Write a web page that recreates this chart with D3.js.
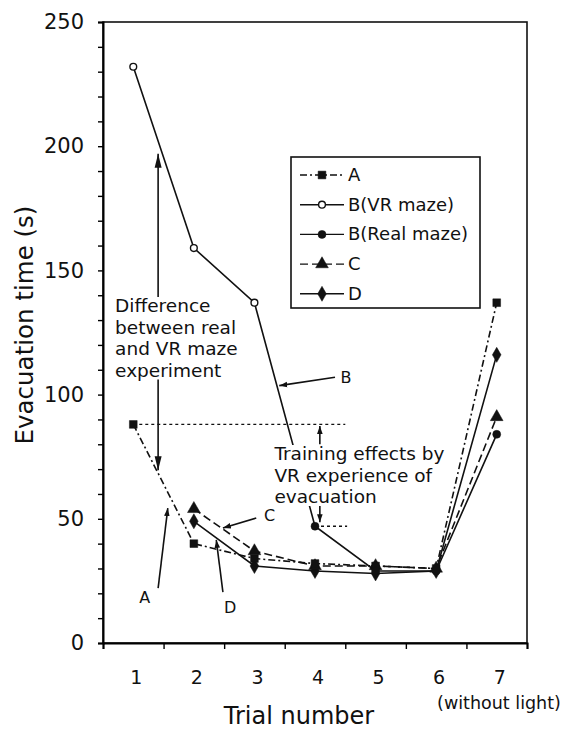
<!DOCTYPE html>
<html>
<head>
<meta charset="utf-8">
<script src="https://cdn.jsdelivr.net/npm/d3@7"></script>
<style>
body{margin:0;background:#fff;}
text{font-family:"DejaVu Sans",Verdana,sans-serif;fill:#111;}
</style>
</head>
<body>
<div id="chart"></div>
<script>
// trial numbers and evacuation times (s)
var trials=[1,2,3,4,5,6,7];
var seriesA=[88,40,34,32,31,30,137];
var seriesBVR=[232,159,137];          // trials 1-3
var seriesBReal=[47,29,29,84];        // trials 4-7
var seriesC=[null,54,37,31,31,30,91];
var seriesD=[null,49,31,29,28,29,116];
var yTicks=[0,50,100,150,200,250];
var legendNames=["A","B(VR maze)","B(Real maze)","C","D"];

var width=565,height=736;
var margin={top:22,left:103,right:38,bottom:93};

var svg=d3.select("#chart").append("svg")
    .attr("width",width).attr("height",height);
svg.append("rect").attr("width",width).attr("height",height).attr("fill","white");

var x=d3.scaleLinear().domain([0.5,7.5]).range([margin.left,width-margin.right]);
var y=d3.scaleLinear().domain([0,250]).range([height-margin.bottom,margin.top]);

// frame
svg.append("rect")
    .attr("x",x(0.5)).attr("y",y(250))
    .attr("width",x(7.5)-x(0.5)).attr("height",y(0)-y(250))
    .attr("fill","none").attr("stroke","#111").attr("stroke-width",1.6);

// y axis, minor ticks every 10
var yAxis=d3.axisLeft(y).tickValues(d3.range(0,251,10)).tickSize(5)
    .tickFormat(function(d){return yTicks.indexOf(d)>=0?d:"";});
var gy=svg.append("g").attr("transform","translate("+x(0.5)+",0)").call(yAxis);
gy.select(".domain").attr("stroke-width",2);
gy.selectAll(".tick line").attr("stroke-width",1.4);
gy.selectAll(".tick text").attr("font-size",21).attr("dx",-11)
    .style("font-family","DejaVu Sans");

// x axis, ticks between the trials
var xAxis=d3.axisBottom(x).tickValues(d3.range(0.5,7.6,1)).tickSize(6).tickFormat("");
var gx=svg.append("g").attr("transform","translate(0,"+y(0)+")").call(xAxis);
gx.select(".domain").attr("stroke-width",2);
gx.selectAll(".tick line").attr("stroke-width",1.4);
svg.append("g").selectAll("text").data(trials).enter().append("text")
    .attr("x",function(d){return x(d)+3;}).attr("y",y(0)+41)
    .attr("text-anchor","middle").attr("font-size",19).text(function(d){return d;});

svg.append("text").attr("x",299).attr("y",724).attr("text-anchor","middle")
    .attr("font-size",24).text("Trial number");
svg.append("text").attr("x",499).attr("y",709).attr("text-anchor","middle")
    .attr("font-size",17.5).text("(without light)");
svg.append("text").attr("transform","translate(33,325) rotate(-90)")
    .attr("text-anchor","middle").attr("font-size",24.5).text("Evacuation time (s)");

// lines
var line=d3.line().defined(function(d){return d.v!=null;})
    .x(function(d){return x(d.t);}).y(function(d){return y(d.v);});
function pts(vals,start){return vals.map(function(v,i){return {t:start+i,v:v};});}

var dashA="7,3,2,3",dashC="8,4";
var gLines=svg.append("g").attr("fill","none").attr("stroke","#111").attr("stroke-width",1.6);
gLines.append("path").attr("d",line(pts(seriesA,1))).attr("stroke-dasharray",dashA);
gLines.append("path").attr("d",line(pts(seriesC,1))).attr("stroke-dasharray",dashC);
gLines.append("path").attr("d",line(pts(seriesD,1)));
gLines.append("path").attr("d",line(pts(seriesBVR.concat(seriesBReal),1)));

// annotations
var defs=svg.append("defs");
defs.append("marker").attr("id","arr").attr("viewBox","0 0 10 10")
    .attr("refX",10).attr("refY",5).attr("markerWidth",8).attr("markerHeight",8)
    .attr("markerUnits","userSpaceOnUse").attr("orient","auto")
  .append("path").attr("d","M0,1.5L10,5L0,8.5Z").attr("fill","#111");
defs.append("marker").attr("id","arrL").attr("viewBox","0 0 10 10")
    .attr("refX",10).attr("refY",5).attr("markerWidth",14).attr("markerHeight",14)
    .attr("markerUnits","userSpaceOnUse").attr("orient","auto")
  .append("path").attr("d","M0,2.5L10,5L0,7.5Z").attr("fill","#111");

var gAnn=svg.append("g");
function arrow(t1,v1,t2,v2,big){
    gAnn.append("line").attr("x1",x(t1)).attr("y1",y(v1)).attr("x2",x(t2)).attr("y2",y(v2))
        .attr("stroke","#111").attr("stroke-width",1.6)
        .attr("marker-end","url(#"+(big?"arrL":"arr")+")");
}
function dotted(t1,t2,v){
    gAnn.append("line").attr("x1",x(t1)).attr("x2",x(t2)).attr("y1",y(v)).attr("y2",y(v))
        .attr("stroke","#111").attr("stroke-width",1.4).attr("stroke-dasharray","3,3");
}
function block(px,py,lines){
    var g=gAnn.append("g");
    var r=g.append("rect").attr("fill","white");
    var t=g.append("text").attr("font-size",18.5);
    lines.forEach(function(s,i){
        t.append("tspan").attr("x",px).attr("y",py+i*21.5).text(s);
    });
    var b=t.node().getBBox();
    r.attr("x",b.x-1).attr("y",b.y+2).attr("width",b.width+2).attr("height",b.height-3);
}
function label(t,v,s){
    gAnn.append("text").attr("x",x(t)).attr("y",y(v)).attr("text-anchor","middle")
        .attr("font-size",16).text(s);
}

// difference between real and VR
arrow(1.41,120,1.41,197,true);
arrow(1.41,120,1.41,69.5,true);
block(x(0.7),312,["Difference","between real","and VR maze","experiment"]);

// training effects
dotted(1,4.5,seriesA[0]);
dotted(4,4.53,seriesBReal[0]);
arrow(4.08,80,4.08,seriesA[0]-0.6,false);
arrow(4.08,57,4.08,seriesBReal[0]+1.6,false);
block(x(3.33),460,["Training effects by","VR experience of","evacuation"]);

arrow(4.33,107,3.41,103.6,false); label(4.51,104.5,"B");
arrow(3.03,50.3,2.48,46.3,false); label(3.25,49,"C");
arrow(1.41,22.1,1.57,54.3,false); label(1.19,16,"A");
arrow(2.48,20.5,2.37,41.5,false); label(2.6,12,"D");

// markers
var symSquare=d3.symbol().type(d3.symbolSquare).size(60);
var symTri=d3.symbol().type(d3.symbolTriangle).size(70);
var symDia=d3.symbol().type(d3.symbolDiamond).size(65);
var symDot=d3.symbol().type(d3.symbolCircle).size(50);
var symOpen=d3.symbol().type(d3.symbolCircle).size(36);

function drawMarks(vals,start,sym,open){
    svg.append("g").selectAll("path").data(pts(vals,start).filter(function(d){return d.v!=null;}))
      .enter().append("path")
        .attr("transform",function(d){return "translate("+x(d.t)+","+y(d.v)+")";})
        .attr("d",sym)
        .attr("fill",open?"white":"#111").attr("stroke","#111").attr("stroke-width",open?1.4:0.5);
}
drawMarks(seriesD,1,symDia,false);
drawMarks(seriesC,1,symTri,false);
drawMarks(seriesA,1,symSquare,false);
drawMarks(seriesBReal,4,symDot,false);
drawMarks(seriesBVR,1,symOpen,true);

// legend
var legSyms=[symSquare,symOpen,symDot,symTri,symDia];
var legDash=[dashA,null,null,dashC,null];
var lg=svg.append("g");
lg.append("rect").attr("x",291).attr("y",157).attr("width",189).attr("height",151)
    .attr("fill","white").attr("stroke","#111").attr("stroke-width",1.6);
legendNames.forEach(function(n,i){
    var ly=175+i*29.7;
    lg.append("line").attr("x1",300).attr("x2",344).attr("y1",ly).attr("y2",ly)
        .attr("stroke","#111").attr("stroke-width",1.4)
        .attr("stroke-dasharray",legDash[i]);
    lg.append("path").attr("transform","translate(322,"+ly+")").attr("d",legSyms[i])
        .attr("fill",i==1?"white":"#111").attr("stroke","#111").attr("stroke-width",i==1?1.4:0.5);
    lg.append("text").attr("x",348).attr("y",ly+6).attr("font-size",18).text(n);
});
</script>
</body>
</html>
